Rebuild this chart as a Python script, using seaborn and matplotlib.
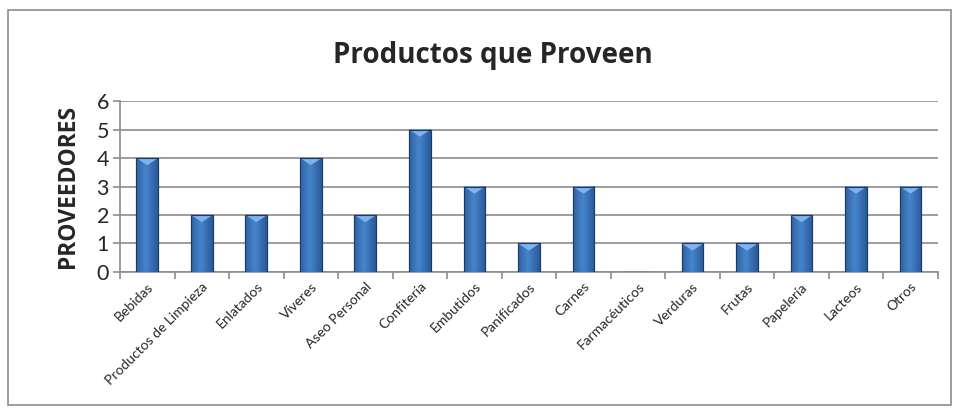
import matplotlib
matplotlib.use("Agg")
import matplotlib.pyplot as plt
import seaborn as sns
import pandas as pd
import numpy as np
from matplotlib.patches import Rectangle

categorias = ["Bebidas", "Productos de Limpieza", "Enlatados", "Víveres", "Aseo Personal",
              "Confitería", "Embutidos", "Panificados", "Carnes", "Farmacéuticos",
              "Verduras", "Frutas", "Papelería", "Lacteos", "Otros"]
proveedores = [4, 2, 2, 4, 2, 5, 3, 1, 3, 0, 1, 1, 2, 3, 3]

df = pd.DataFrame({"categoria": categorias, "proveedores": proveedores})

sns.set_style("white")
plt.rcParams['font.family'] = ['Lato', 'DejaVu Sans']

fig = plt.figure(figsize=(9.55, 4.09), dpi=100)
ax = fig.add_axes([0.1257, 0.335, 0.8563, 0.418])

sns.barplot(data=df, x="categoria", y="proveedores", color="#3b74bd", width=0.4,
            edgecolor="#1d3a66", linewidth=0.8, saturation=1, ax=ax, zorder=3)

# horizontal gradient on each bar to mimic the bevelled Excel look
grad = np.linspace(0, 1, 64)
shade = 1 - 0.55 * np.abs(grad - 0.45) * 2
cmap = matplotlib.colors.LinearSegmentedColormap.from_list("b", ["#173f75", "#4684cc"])
for p in ax.patches:
    h = p.get_height()
    if h <= 0:
        continue
    x0 = p.get_x()
    w = p.get_width()
    ax.imshow(shade[np.newaxis, :], extent=[x0, x0 + w, 0, h], cmap=cmap, vmin=0, vmax=1,
              aspect="auto", zorder=3.5, clip_path=p, interpolation="bicubic")
    # little light triangle at the top
    tri = plt.Polygon([[x0, h], [x0 + w, h], [x0 + w / 2, h - 0.25]], closed=True,
                      facecolor="#7fb3ef", edgecolor="none", zorder=3.6)
    ax.add_patch(tri)
    ax.add_patch(Rectangle((x0, 0), w, h, fill=False, edgecolor="#1d3a66", linewidth=0.8, zorder=3.7))

ax.set_xlim(-0.5, len(categorias) - 0.5)
ax.set_ylim(0, 6)
ax.set_yticks(range(0, 7))
ax.yaxis.grid(True, color="#8c8c8c", linewidth=1.2, zorder=0)
ax.xaxis.grid(False)

for side in ["top", "right"]:
    ax.spines[side].set_visible(False)
for side in ["left", "bottom"]:
    ax.spines[side].set_color("#8c8c8c")
    ax.spines[side].set_linewidth(1.2)

ax.tick_params(axis="y", labelsize=15.5, length=5, width=1.2, color="#8c8c8c", direction="out", left=True, pad=3)
ax.set_xticks(range(len(categorias)))
ax.set_xticklabels(categorias, rotation=45, ha="right", rotation_mode="anchor", fontsize=10)
ax.tick_params(axis="x", length=0, pad=6)
# tick marks between categories
ax.set_xticks(np.arange(-0.5, len(categorias)), minor=True)
ax.tick_params(axis="x", which="minor", length=5, width=1.2, color="#8c8c8c", direction="out", bottom=True)

ax.set_xlabel("")
ax.set_ylabel("PROVEEDORES", fontsize=16.5, fontweight="bold", family=["Open Sans", "DejaVu Sans"], labelpad=12)
fig.text(0.516, 0.865, "Productos que Proveen", ha="center", va="center", fontsize=20,
         fontweight="bold", family=["Open Sans", "DejaVu Sans"])

fig.patches.append(Rectangle((0.008, 0.01), 0.988, 0.965, transform=fig.transFigure,
                             fill=False, edgecolor="#8c8c8c", linewidth=1.2))

fig.savefig("out.png", dpi=100)
